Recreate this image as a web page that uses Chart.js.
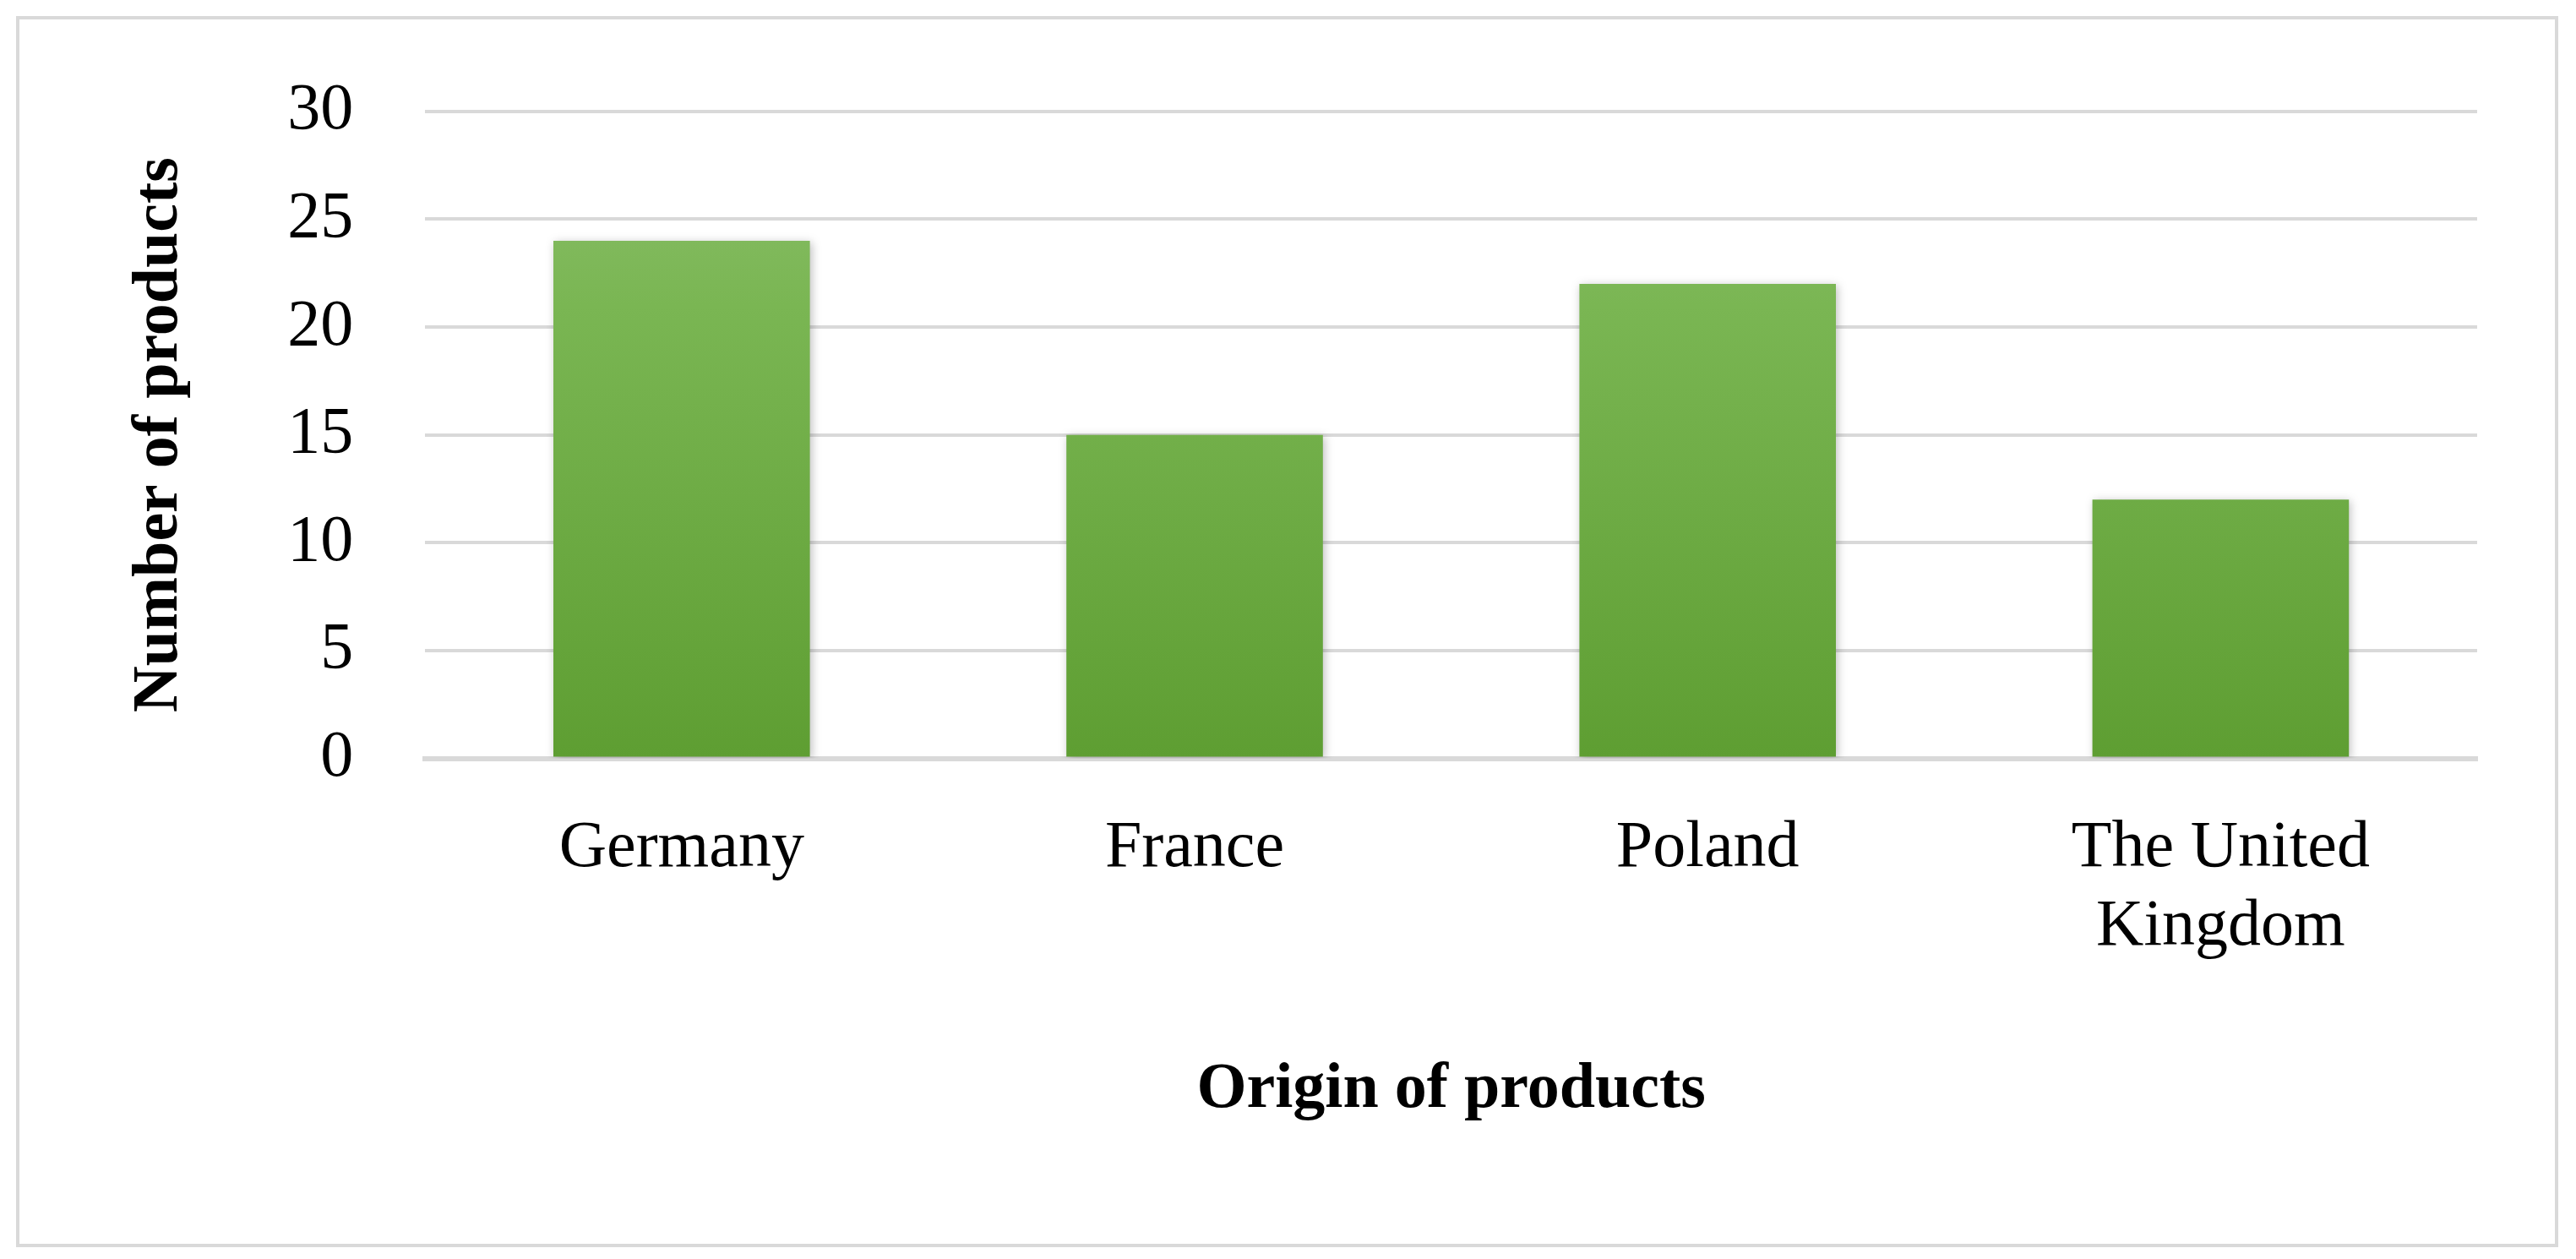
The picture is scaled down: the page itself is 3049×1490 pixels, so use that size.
<!DOCTYPE html>
<html>
<head>
<meta charset="utf-8">
<script src="https://cdn.jsdelivr.net/npm/chart.js@4/dist/chart.umd.min.js"></script>
<style>
  html, body { margin: 0; padding: 0; background: #fff; }
  #frame { position: absolute; left: 19px; top: 19px; width: 3001px; height: 1449px; border: 4px solid #d9d9d9; }
  #chartCanvas { position: absolute; left: 0; top: 0; }
</style>
</head>
<body>
<div id="frame"></div>
<canvas id="chartCanvas" width="3049" height="1490"></canvas>
<script>
const categories = ["Germany", "France", "Poland", ["The United", "Kingdom"]];
const productCounts = [24, 15, 22, 12];
const yTicks = [0, 5, 10, 15, 20, 25, 30];

const serif = "'Liberation Serif', 'DejaVu Serif', serif";

const barShadow = {
  id: "barShadow",
  beforeDatasetsDraw(chart) {
    const c = chart.ctx;
    c.save();
    c.shadowColor = "rgba(0,0,0,0.25)";
    c.shadowBlur = 10;
    c.shadowOffsetX = 2;
    c.shadowOffsetY = 2;
  },
  afterDatasetsDraw(chart) {
    chart.ctx.restore();
  }
};

const ctx = document.getElementById("chartCanvas").getContext("2d");
new Chart(ctx, {
  type: "bar",
  data: {
    labels: categories,
    datasets: [{
      label: "Number of products",
      data: productCounts,
      categoryPercentage: 1,
      barPercentage: 0.5,
      backgroundColor: (context) => {
        const area = context.chart.chartArea;
        if (!area) return "#70ad47";
        const g = context.chart.ctx.createLinearGradient(0, area.top, 0, area.bottom);
        g.addColorStop(0, "#8cbf6c");
        g.addColorStop(0.3, "#7ab653");
        g.addColorStop(1, "#5e9e32");
        return g;
      }
    }]
  },
  options: {
    responsive: false,
    animation: false,
    layout: { padding: { top: 125, right: 117, bottom: 150, left: 140 } },
    plugins: {
      legend: { display: false },
      tooltip: { enabled: false }
    },
    scales: {
      y: {
        min: 0,
        max: 30,
        afterBuildTicks: axis => { axis.ticks = yTicks.map(v => ({ value: v })); },
        grid: { color: "#d9d9d9", lineWidth: 4, drawTicks: false },
        border: { display: false },
        ticks: { color: "#000", font: { family: serif, size: 78 }, padding: 85 },
        title: {
          display: true,
          text: "Number of products",
          color: "#000",
          font: { family: serif, size: 76, weight: "bold" },
          padding: { bottom: 20 }
        }
      },
      x: {
        grid: { display: false, drawTicks: false },
        border: { color: "#d9d9d9", width: 6 },
        ticks: { color: "#000", font: { family: serif, size: 78 }, padding: 60 },
        title: {
          display: true,
          text: "Origin of products",
          color: "#000",
          font: { family: serif, size: 76, weight: "bold" },
          padding: { top: 40 }
        }
      }
    }
  },
  plugins: [barShadow]
});
</script>
</body>
</html>
